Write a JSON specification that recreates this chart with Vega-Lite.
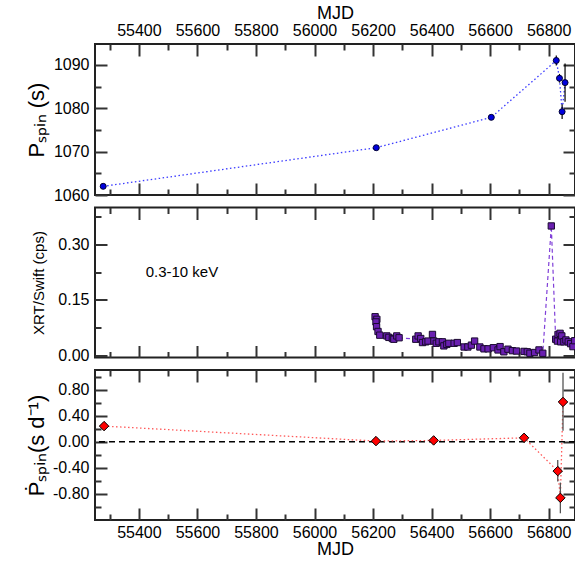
{
  "$schema": "https://vega.github.io/schema/vega-lite/v6.json",
  "padding": {"left": 24, "top": 3, "right": 0, "bottom": 0},
  "config": {
    "font": "Liberation Sans",
    "view": {"stroke": "#222", "strokeWidth": 2},
    "axis": {"domain": false, "grid": false, "ticks": true, "labelFontSize": 16, "labelColor": "#000", "titleFontWeight": "normal", "titleColor": "#000", "tickColor": "#333", "tickWidth": 2, "labelFont": "Liberation Sans", "titleFont": "Liberation Sans", "minExtent": 0},
    "axisY": {"minExtent": 0},
    "concat": {"spacing": 12.5}
  },
  "bounds": "flush",
  "datasets": {
    "pspin": [
      {"mjd": 55278, "p": 1062.0},
      {"mjd": 56211, "p": 1070.9},
      {"mjd": 56604, "p": 1077.9},
      {"mjd": 56826, "p": 1091.0, "lo": 1089.85, "hi": 1092.15},
      {"mjd": 56837, "p": 1086.9, "lo": 1085.9, "hi": 1087.9},
      {"mjd": 56846, "p": 1079.2, "lo": 1077.5, "hi": 1080.9},
      {"mjd": 56856, "p": 1085.9, "lo": 1081.5, "hi": 1090.3}
    ],
    "xrt": [
      {"mjd": 56207, "cps": 0.104},
      {"mjd": 56213, "cps": 0.097},
      {"mjd": 56210, "cps": 0.090},
      {"mjd": 56212, "cps": 0.077},
      {"mjd": 56217, "cps": 0.064},
      {"mjd": 56223, "cps": 0.054},
      {"mjd": 56247, "cps": 0.052},
      {"mjd": 56254, "cps": 0.048},
      {"mjd": 56266, "cps": 0.045},
      {"mjd": 56271, "cps": 0.043},
      {"mjd": 56281, "cps": 0.052},
      {"mjd": 56289, "cps": 0.047},
      {"mjd": 56346, "cps": 0.043},
      {"mjd": 56354, "cps": 0.052},
      {"mjd": 56363, "cps": 0.045},
      {"mjd": 56369, "cps": 0.034},
      {"mjd": 56380, "cps": 0.036},
      {"mjd": 56388, "cps": 0.038},
      {"mjd": 56403, "cps": 0.056},
      {"mjd": 56408, "cps": 0.038},
      {"mjd": 56416, "cps": 0.032},
      {"mjd": 56425, "cps": 0.036},
      {"mjd": 56437, "cps": 0.036},
      {"mjd": 56442, "cps": 0.025},
      {"mjd": 56452, "cps": 0.029},
      {"mjd": 56459, "cps": 0.032},
      {"mjd": 56477, "cps": 0.032},
      {"mjd": 56488, "cps": 0.034},
      {"mjd": 56511, "cps": 0.022},
      {"mjd": 56524, "cps": 0.022},
      {"mjd": 56536, "cps": 0.027},
      {"mjd": 56547, "cps": 0.038},
      {"mjd": 56565, "cps": 0.022},
      {"mjd": 56579, "cps": 0.017},
      {"mjd": 56593, "cps": 0.017},
      {"mjd": 56611, "cps": 0.020},
      {"mjd": 56627, "cps": 0.014},
      {"mjd": 56634, "cps": 0.023},
      {"mjd": 56647, "cps": 0.009},
      {"mjd": 56661, "cps": 0.016},
      {"mjd": 56676, "cps": 0.012},
      {"mjd": 56690, "cps": 0.011},
      {"mjd": 56716, "cps": 0.010},
      {"mjd": 56727, "cps": 0.009},
      {"mjd": 56736, "cps": 0.005},
      {"mjd": 56752, "cps": 0.007},
      {"mjd": 56767, "cps": 0.014},
      {"mjd": 56780, "cps": 0.005},
      {"mjd": 56809, "cps": 0.350},
      {"mjd": 56824, "cps": 0.043},
      {"mjd": 56830, "cps": 0.038},
      {"mjd": 56832, "cps": 0.056},
      {"mjd": 56839, "cps": 0.059},
      {"mjd": 56841, "cps": 0.036},
      {"mjd": 56845, "cps": 0.052},
      {"mjd": 56852, "cps": 0.036},
      {"mjd": 56859, "cps": 0.041},
      {"mjd": 56867, "cps": 0.036},
      {"mjd": 56875, "cps": 0.031},
      {"mjd": 56883, "cps": 0.023},
      {"mjd": 56889, "cps": 0.039}
    ],
    "pdot": [
      {"mjd": 55281, "pd": 0.24},
      {"mjd": 56210, "pd": 0.01},
      {"mjd": 56407, "pd": 0.02},
      {"mjd": 56716, "pd": 0.06},
      {"mjd": 56831, "pd": -0.45, "lo": -0.61, "hi": -0.28},
      {"mjd": 56840, "pd": -0.86, "lo": -1.097, "hi": -0.626},
      {"mjd": 56849, "pd": 0.61, "lo": 0.17, "hi": 1.057}
    ]
  },
  "vconcat": [
    {
      "width": 480,
      "height": 151,
      "layer": [
        {
          "data": {"name": "pspin"},
          "mark": {"type": "line", "color": "#3b3bff", "strokeDash": [1.5, 2.5], "strokeWidth": 1.3},
          "encoding": {
            "x": {"field": "mjd", "type": "quantitative", "scale": {"domain": [55250, 56890], "nice": false, "zero": false},
              "axis": {"orient": "top", "title": "MJD", "titleFontSize": 18, "titlePadding": 0,
                "values": [55400, 55600, 55800, 56000, 56200, 56400, 56600, 56800],
                "format": "d", "ticks": true, "tickColor": "#333", "tickWidth": 2, "tickSize": 12, "offset": -12, "labelPadding": 6}},
            "y": {"field": "p", "type": "quantitative", "scale": {"domain": [1060, 1094.8], "nice": false, "zero": false},
              "axis": {"orient": "left", "title": "Pₛₚᵢₙ (s)", "titleFontSize": 22, "titlePadding": 5,
                "values": [1060, 1070, 1080, 1090],
                "format": "d", "ticks": true, "tickColor": "#333", "tickWidth": 2, "tickSize": 12, "offset": -12, "labelPadding": 6}}
          }
        },
        {
          "data": {"name": "pspin"},
          "mark": {"type": "point", "opacity": 0},
          "encoding": {
            "x": {"field": "mjd", "type": "quantitative", "scale": {"domain": [55250, 56890], "nice": false, "zero": false},
              "axis": {"orient": "top", "title": null, "labels": false, "ticks": true, "tickColor": "#333", "tickWidth": 2, "values": [55300, 55500, 55700, 55900, 56100, 56300, 56500, 56700], "tickSize": 6, "offset": -6}},
            "y": {"field": "p", "type": "quantitative", "scale": {"domain": [1060, 1094.8], "nice": false, "zero": false},
              "axis": {"orient": "left", "title": null, "labels": false, "ticks": true, "tickColor": "#333", "tickWidth": 2, "values": [1065, 1075, 1085], "tickSize": 6, "offset": -6}}
          }
        },
        {
          "data": {"name": "pspin"},
          "mark": {"type": "point", "opacity": 0},
          "encoding": {
            "x": {"field": "mjd", "type": "quantitative", "scale": {"domain": [55250, 56890], "nice": false, "zero": false},
              "axis": {"orient": "bottom", "title": null, "labels": false, "ticks": true, "tickColor": "#333", "tickWidth": 2, "values": [55300, 55500, 55700, 55900, 56100, 56300, 56500, 56700], "tickSize": 6, "offset": -6}},
            "y": {"field": "p", "type": "quantitative", "scale": {"domain": [1060, 1094.8], "nice": false, "zero": false},
              "axis": {"orient": "right", "title": null, "labels": false, "ticks": true, "tickColor": "#333", "tickWidth": 2, "values": [1065, 1075, 1085], "tickSize": 6, "offset": -6}}
          }
        },
        {
          "data": {"name": "pspin"},
          "transform": [{"filter": "isValid(datum.lo)"}],
          "mark": {"type": "rule", "color": "#000", "strokeWidth": 1.2},
          "encoding": {
            "x": {"field": "mjd", "type": "quantitative", "scale": {"domain": [55250, 56890], "nice": false, "zero": false}, "axis": null},
            "y": {"field": "lo", "type": "quantitative", "scale": {"domain": [1060, 1094.8], "nice": false, "zero": false}, "axis": null},
            "y2": {"field": "hi"}
          }
        },
        {
          "data": {"name": "pspin"},
          "mark": {"type": "point", "shape": "circle", "filled": true, "size": 36, "color": "#0000dd", "stroke": "#000033", "strokeWidth": 1, "opacity": 1},
          "encoding": {
            "x": {"field": "mjd", "type": "quantitative", "scale": {"domain": [55250, 56890], "nice": false, "zero": false},
              "axis": {"orient": "bottom", "title": null, "labels": false, "ticks": true, "tickColor": "#333", "tickWidth": 2, "values": [55400, 55600, 55800, 56000, 56200, 56400, 56600, 56800], "tickSize": 12, "offset": -12}},
            "y": {"field": "p", "type": "quantitative", "scale": {"domain": [1060, 1094.8], "nice": false, "zero": false},
              "axis": {"orient": "right", "title": null, "labels": false, "ticks": true, "tickColor": "#333", "tickWidth": 2, "values": [1060, 1070, 1080, 1090], "tickSize": 12, "offset": -12}}
          }
        }
      ],
      "resolve": {"axis": {"x": "independent", "y": "independent"}}
    },
    {
      "width": 480,
      "height": 150,
      "layer": [
        {
          "data": {"name": "xrt"},
          "mark": {"type": "line", "color": "#8040d8", "strokeDash": [4, 3], "strokeWidth": 1.2},
          "encoding": {
            "x": {"field": "mjd", "type": "quantitative", "scale": {"domain": [55250, 56890], "nice": false, "zero": false},
              "axis": {"orient": "top", "title": null, "labels": false, "ticks": true, "tickColor": "#333", "tickWidth": 2, "values": [55400, 55600, 55800, 56000, 56200, 56400, 56600, 56800], "tickSize": 12, "offset": -12}},
            "y": {"field": "cps", "type": "quantitative", "scale": {"domain": [-0.0065, 0.4], "nice": false, "zero": false},
              "axis": {"orient": "left", "title": "XRT/Swift (cps)", "titleFontSize": 15, "titlePadding": 11,
                "values": [0, 0.15, 0.3], "format": ".2f", "ticks": true, "tickColor": "#333", "tickWidth": 2, "tickSize": 12, "offset": -12, "labelPadding": 6}}
          }
        },
        {
          "data": {"name": "xrt"},
          "mark": {"type": "point", "opacity": 0},
          "encoding": {
            "x": {"field": "mjd", "type": "quantitative", "scale": {"domain": [55250, 56890], "nice": false, "zero": false},
              "axis": {"orient": "top", "title": null, "labels": false, "ticks": true, "tickColor": "#333", "tickWidth": 2, "values": [55300, 55500, 55700, 55900, 56100, 56300, 56500, 56700], "tickSize": 6, "offset": -6}},
            "y": {"field": "cps", "type": "quantitative", "scale": {"domain": [-0.0065, 0.4], "nice": false, "zero": false},
              "axis": {"orient": "left", "title": null, "labels": false, "ticks": true, "tickColor": "#333", "tickWidth": 2, "values": [0.075, 0.225, 0.375], "tickSize": 6, "offset": -6}}
          }
        },
        {
          "data": {"name": "xrt"},
          "mark": {"type": "point", "opacity": 0},
          "encoding": {
            "x": {"field": "mjd", "type": "quantitative", "scale": {"domain": [55250, 56890], "nice": false, "zero": false},
              "axis": {"orient": "bottom", "title": null, "labels": false, "ticks": true, "tickColor": "#333", "tickWidth": 2, "values": [55300, 55500, 55700, 55900, 56100, 56300, 56500, 56700], "tickSize": 6, "offset": -6}},
            "y": {"field": "cps", "type": "quantitative", "scale": {"domain": [-0.0065, 0.4], "nice": false, "zero": false},
              "axis": {"orient": "right", "title": null, "labels": false, "ticks": true, "tickColor": "#333", "tickWidth": 2, "values": [0.075, 0.225, 0.375], "tickSize": 6, "offset": -6}}
          }
        },
        {
          "data": {"name": "xrt"},
          "mark": {"type": "point", "shape": "square", "filled": true, "size": 40, "color": "#6a1fb0", "stroke": "#1a0a30", "strokeWidth": 1, "opacity": 1},
          "encoding": {
            "x": {"field": "mjd", "type": "quantitative", "scale": {"domain": [55250, 56890], "nice": false, "zero": false},
              "axis": {"orient": "bottom", "title": null, "labels": false, "ticks": true, "tickColor": "#333", "tickWidth": 2, "values": [55400, 55600, 55800, 56000, 56200, 56400, 56600, 56800], "tickSize": 12, "offset": -12}},
            "y": {"field": "cps", "type": "quantitative", "scale": {"domain": [-0.0065, 0.4], "nice": false, "zero": false},
              "axis": {"orient": "right", "title": null, "labels": false, "ticks": true, "tickColor": "#333", "tickWidth": 2, "values": [0, 0.15, 0.3], "tickSize": 12, "offset": -12}}
          }
        },
        {
          "data": {"values": [{}]},
          "mark": {"type": "text", "align": "left", "baseline": "middle", "fontSize": 15, "color": "#000"},
          "encoding": {
            "x": {"datum": 55423, "type": "quantitative", "scale": {"domain": [55250, 56890], "nice": false, "zero": false}, "axis": null},
            "y": {"datum": 0.226, "type": "quantitative", "scale": {"domain": [-0.0065, 0.4], "nice": false, "zero": false}, "axis": null},
            "text": {"value": "0.3-10 keV"}
          }
        }
      ],
      "resolve": {"axis": {"x": "independent", "y": "independent"}}
    },
    {
      "width": 480,
      "height": 150,
      "layer": [
        {
          "data": {"values": [{}]},
          "mark": {"type": "rule", "color": "#000", "strokeDash": [6, 4], "strokeWidth": 1.5},
          "encoding": {
            "y": {"datum": 0, "type": "quantitative", "scale": {"domain": [-1.2, 1.1], "nice": false, "zero": false}, "axis": null}
          }
        },
        {
          "data": {"name": "pdot"},
          "mark": {"type": "line", "color": "#ff5a5a", "strokeDash": [1.5, 2.5], "strokeWidth": 1.3},
          "encoding": {
            "x": {"field": "mjd", "type": "quantitative", "scale": {"domain": [55250, 56890], "nice": false, "zero": false},
              "axis": {"orient": "bottom", "title": "MJD", "titleFontSize": 18, "titlePadding": 0,
                "values": [55400, 55600, 55800, 56000, 56200, 56400, 56600, 56800],
                "format": "d", "ticks": true, "tickColor": "#333", "tickWidth": 2, "tickSize": 12, "offset": -12, "labelPadding": 4}},
            "y": {"field": "pd", "type": "quantitative", "scale": {"domain": [-1.2, 1.1], "nice": false, "zero": false},
              "axis": {"orient": "left", "title": "Ṗₛₚᵢₙ(s d⁻¹)", "titleFontSize": 22, "titlePadding": 4,
                "values": [-0.8, -0.4, 0, 0.4, 0.8],
                "format": ".2f", "labelExpr": "replace(datum.label, '−', '-')", "ticks": true, "tickColor": "#333", "tickWidth": 2, "tickSize": 12, "offset": -12, "labelPadding": 6}}
          }
        },
        {
          "data": {"name": "pdot"},
          "mark": {"type": "point", "opacity": 0},
          "encoding": {
            "x": {"field": "mjd", "type": "quantitative", "scale": {"domain": [55250, 56890], "nice": false, "zero": false},
              "axis": {"orient": "top", "title": null, "labels": false, "ticks": true, "tickColor": "#333", "tickWidth": 2, "values": [55300, 55500, 55700, 55900, 56100, 56300, 56500, 56700], "tickSize": 6, "offset": -6}},
            "y": {"field": "pd", "type": "quantitative", "scale": {"domain": [-1.2, 1.1], "nice": false, "zero": false},
              "axis": {"orient": "left", "title": null, "labels": false, "ticks": true, "tickColor": "#333", "tickWidth": 2, "values": [-1, -0.6, -0.2, 0.2, 0.6, 1], "tickSize": 6, "offset": -6}}
          }
        },
        {
          "data": {"name": "pdot"},
          "mark": {"type": "point", "opacity": 0},
          "encoding": {
            "x": {"field": "mjd", "type": "quantitative", "scale": {"domain": [55250, 56890], "nice": false, "zero": false},
              "axis": {"orient": "bottom", "title": null, "labels": false, "ticks": true, "tickColor": "#333", "tickWidth": 2, "values": [55300, 55500, 55700, 55900, 56100, 56300, 56500, 56700], "tickSize": 6, "offset": -6}},
            "y": {"field": "pd", "type": "quantitative", "scale": {"domain": [-1.2, 1.1], "nice": false, "zero": false},
              "axis": {"orient": "right", "title": null, "labels": false, "ticks": true, "tickColor": "#333", "tickWidth": 2, "values": [-1, -0.6, -0.2, 0.2, 0.6, 1], "tickSize": 6, "offset": -6}}
          }
        },
        {
          "data": {"name": "pdot"},
          "transform": [{"filter": "isValid(datum.lo)"}],
          "mark": {"type": "rule", "color": "#555", "strokeWidth": 1.3},
          "encoding": {
            "x": {"field": "mjd", "type": "quantitative", "scale": {"domain": [55250, 56890], "nice": false, "zero": false}, "axis": null},
            "y": {"field": "lo", "type": "quantitative", "scale": {"domain": [-1.2, 1.1], "nice": false, "zero": false}, "axis": null},
            "y2": {"field": "hi"}
          }
        },
        {
          "data": {"name": "pdot"},
          "mark": {"type": "point", "shape": "diamond", "filled": true, "size": 90, "color": "#ff0000", "stroke": "#000", "strokeWidth": 1, "opacity": 1},
          "encoding": {
            "x": {"field": "mjd", "type": "quantitative", "scale": {"domain": [55250, 56890], "nice": false, "zero": false},
              "axis": {"orient": "top", "title": null, "labels": false, "ticks": true, "tickColor": "#333", "tickWidth": 2, "values": [55400, 55600, 55800, 56000, 56200, 56400, 56600, 56800], "tickSize": 12, "offset": -12}},
            "y": {"field": "pd", "type": "quantitative", "scale": {"domain": [-1.2, 1.1], "nice": false, "zero": false},
              "axis": {"orient": "right", "title": null, "labels": false, "ticks": true, "tickColor": "#333", "tickWidth": 2, "values": [-0.8, -0.4, 0, 0.4, 0.8], "tickSize": 12, "offset": -12}}
          }
        }
      ],
      "resolve": {"axis": {"x": "independent", "y": "independent"}}
    }
  ]
}
